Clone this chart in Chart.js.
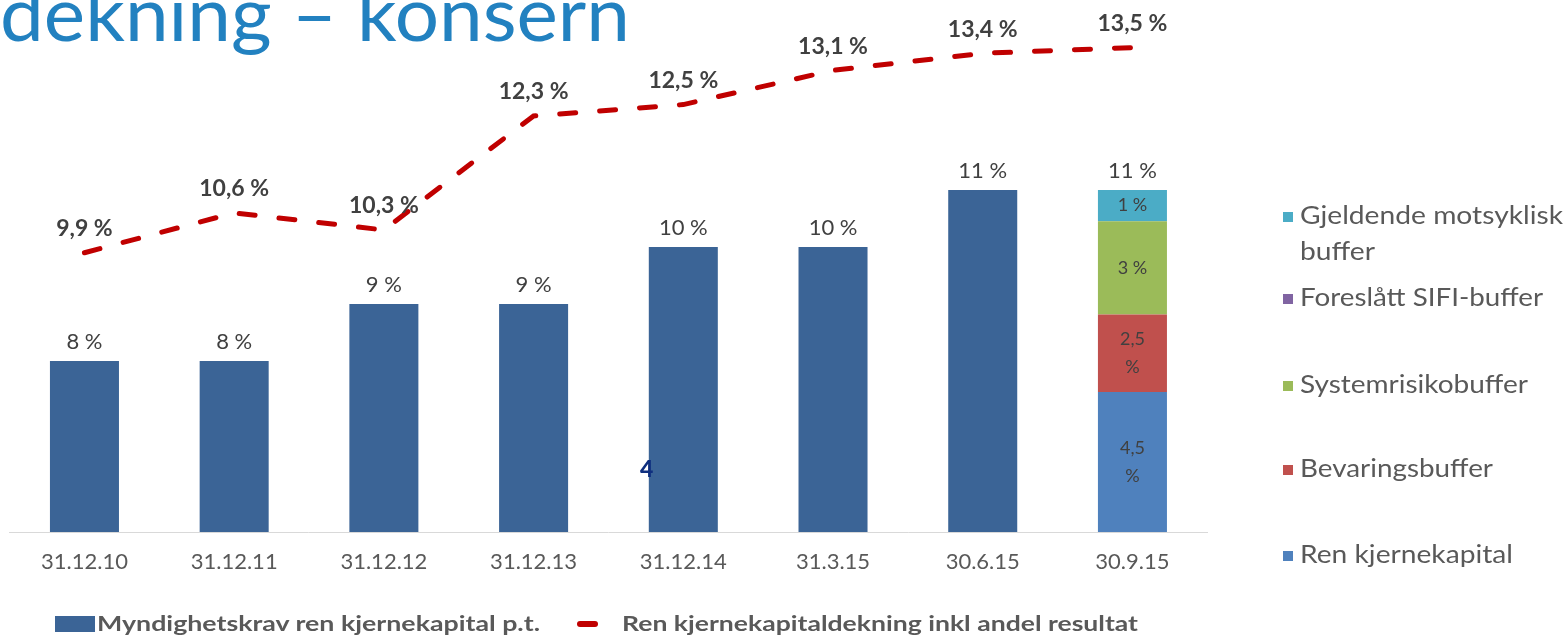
<!DOCTYPE html>
<html>
<head>
<meta charset="utf-8">
<script src="https://cdn.jsdelivr.net/npm/chart.js@4.4.1/dist/chart.umd.min.js"></script>
<style>
  body { margin: 0; background: #fff; }
  #wrap { position: relative; width: 1568px; height: 638px; overflow: hidden; font-family: Lato, "Noto Sans", sans-serif; }
  #chartBox { position: absolute; left: 0; top: 0; width: 1568px; height: 638px; z-index: 1; }
  .txt { position: absolute; white-space: nowrap; line-height: 1; transform-origin: 0 50%; z-index: 2; }
  .sq { position: absolute; z-index: 2; }
  .leg { font-size: 25px; color: #595959; }
  .bleg { font-size: 21px; font-weight: bold; color: #595959; }
</style>
</head>
<body>
<div id="wrap">
  <div id="chartBox"><canvas id="kapital"></canvas></div>

  <!-- title, cut off at the top like the slide -->
  <div class="txt" data-w="630" style="left:0; top:-25px; font-size:75px; color:#2281c0;">dekning – konsern</div>

  <!-- page number stuck in the picture -->
  <div class="txt" style="left:640px; top:457px; font-size:23px; font-weight:900; color:#0f2f7f;">4</div>

  <!-- right legend -->
  <div class="sq" style="left:1283px; top:212px; width:10px; height:10px; background:#4bacc6;"></div>
  <div class="txt leg" data-w="263" style="left:1300px; top:202px;">Gjeldende motsyklisk</div>
  <div class="txt leg" data-w="75" style="left:1300px; top:238px;">buffer</div>
  <div class="sq" style="left:1283px; top:294px; width:10px; height:10px; background:#8064a2;"></div>
  <div class="txt leg" data-w="243" style="left:1300px; top:284px;">Foreslått SIFI-buffer</div>
  <div class="sq" style="left:1283px; top:381px; width:10px; height:10px; background:#9bbb59;"></div>
  <div class="txt leg" data-w="228" style="left:1300px; top:371px;">Systemrisikobuffer</div>
  <div class="sq" style="left:1283px; top:465px; width:10px; height:10px; background:#c0504d;"></div>
  <div class="txt leg" data-w="193" style="left:1300px; top:455px;">Bevaringsbuffer</div>
  <div class="sq" style="left:1283px; top:551px; width:10px; height:10px; background:#4f81bd;"></div>
  <div class="txt leg" data-w="213" style="left:1300px; top:541px;">Ren kjernekapital</div>

  <!-- bottom legend -->
  <div class="sq" style="left:55px; top:616px; width:40px; height:16px; background:#3b6496;"></div>
  <div class="txt bleg" data-w="443" style="left:97px; top:612px;">Myndighetskrav ren kjernekapital p.t.</div>
  <div class="sq" style="left:577px; top:621px; width:21px; height:6px; border-radius:3px; background:#c00000;"></div>
  <div class="txt bleg" data-w="516" style="left:622px; top:612px;">Ren kjernekapitaldekning inkl andel resultat</div>
</div>

<script>
// data
const categories = ["31.12.10", "31.12.11", "31.12.12", "31.12.13", "31.12.14", "31.3.15", "30.6.15", "30.9.15"];
const myndighetskrav = [8, 8, 9, 9, 10, 10, 11, null];
const kapitaldekning = [9.9, 10.6, 10.3, 12.3, 12.5, 13.1, 13.4, 13.5];

// breakdown of the requirement for the last date
const renKjernekapital = [null, null, null, null, null, null, null, 4.5];
const bevaringsbuffer = [null, null, null, null, null, null, null, 2.5];
const systemrisikobuffer = [null, null, null, null, null, null, null, 3];
const sifiBuffer = [null, null, null, null, null, null, null, 0];
const motsykliskBuffer = [null, null, null, null, null, null, null, 1];

const fmt = (v) => String(v).replace(".", ",");

// stretch the html texts to the widths seen on the slide
document.querySelectorAll(".txt[data-w]").forEach((el) => {
  const w = el.getBoundingClientRect().width;
  const target = Number(el.dataset.w);
  if (w > 0) el.style.transform = `scaleX(${target / w})`;
});

// value labels drawn on top of the bars and line
const valueLabels = {
  id: "valueLabels",
  afterDatasetsDraw(chart) {
    const ctx = chart.ctx;
    ctx.save();
    ctx.textAlign = "center";
    ctx.textBaseline = "middle";

    // requirement bars
    ctx.font = "22px Lato";
    ctx.fillStyle = "#404040";
    chart.getDatasetMeta(0).data.forEach((bar, i) => {
      if (myndighetskrav[i] == null) return;
      ctx.fillText(fmt(myndighetskrav[i]) + " %", bar.x, bar.y - 19);
    });

    // stacked breakdown
    ctx.font = "18px Lato";
    let topBar = null;
    let total = 0;
    for (let d = 1; d <= 5; d++) {
      const meta = chart.getDatasetMeta(d);
      const vals = chart.data.datasets[d].data;
      meta.data.forEach((bar, i) => {
        const v = vals[i];
        if (v == null) return;
        total += v;
        topBar = bar;
        if (v === 0) return;
        const cy = (bar.y + bar.base) / 2;
        if (Number.isInteger(v)) {
          ctx.fillText(fmt(v) + " %", bar.x, cy);
        } else {
          ctx.fillText(fmt(v), bar.x, cy - 14);
          ctx.fillText("%", bar.x, cy + 14);
        }
      });
    }
    if (topBar) {
      ctx.font = "22px Lato";
      ctx.fillText(fmt(total) + " %", topBar.x, topBar.y - 19);
    }

    // line labels
    ctx.font = "bold 23px Lato";
    ctx.fillStyle = "#404040";
    chart.getDatasetMeta(6).data.forEach((pt, i) => {
      ctx.fillText(fmt(kapitaldekning[i]) + " %", pt.x, pt.y - 24);
    });
    ctx.restore();
  }
};

const stackBar = (label, data, color) => ({
  label,
  data,
  backgroundColor: color,
  yAxisID: "y2",
  stack: "krav",
  grouped: false,
  order: 1
});

new Chart(document.getElementById("kapital"), {
  type: "bar",
  data: {
    labels: categories,
    datasets: [
      {
        label: "Myndighetskrav ren kjernekapital p.t.",
        data: myndighetskrav,
        backgroundColor: "#3b6496",
        yAxisID: "y",
        grouped: false,
        order: 1
      },
      stackBar("Ren kjernekapital", renKjernekapital, "#4f81bd"),
      stackBar("Bevaringsbuffer", bevaringsbuffer, "#c0504d"),
      stackBar("Systemrisikobuffer", systemrisikobuffer, "#9bbb59"),
      stackBar("Foreslått SIFI-buffer", sifiBuffer, "#8064a2"),
      stackBar("Gjeldende motsyklisk buffer", motsykliskBuffer, "#4bacc6"),
      {
        type: "line",
        label: "Ren kjernekapitaldekning inkl andel resultat",
        data: kapitaldekning,
        yAxisID: "y",
        borderColor: "#c00000",
        borderWidth: 5,
        borderDash: [16, 24],
        borderCapStyle: "round",
        pointRadius: 0,
        tension: 0,
        fill: false,
        order: 0
      }
    ]
  },
  options: {
    responsive: true,
    maintainAspectRatio: false,
    animation: false,
    datasets: {
      bar: { categoryPercentage: 1, barPercentage: 0.461 }
    },
    layout: {
      padding: { left: 9.6, right: 360.7, top: 2, bottom: 66 }
    },
    plugins: {
      legend: { display: false },
      tooltip: { enabled: false }
    },
    scales: {
      x: {
        grid: { display: false, drawTicks: false },
        border: { display: true, color: "#d9d9d9", width: 1 },
        ticks: { font: { family: "Lato", size: 22 }, color: "#595959", padding: 16.8, maxRotation: 0, autoSkip: false },
        afterFit(scale) { scale.height = 40; }
      },
      y: { display: false, min: 5, max: 14.3 },
      y2: { display: false, stacked: true, min: 0, max: 17.05 }
    }
  },
  plugins: [valueLabels]
});
</script>
</body>
</html>
